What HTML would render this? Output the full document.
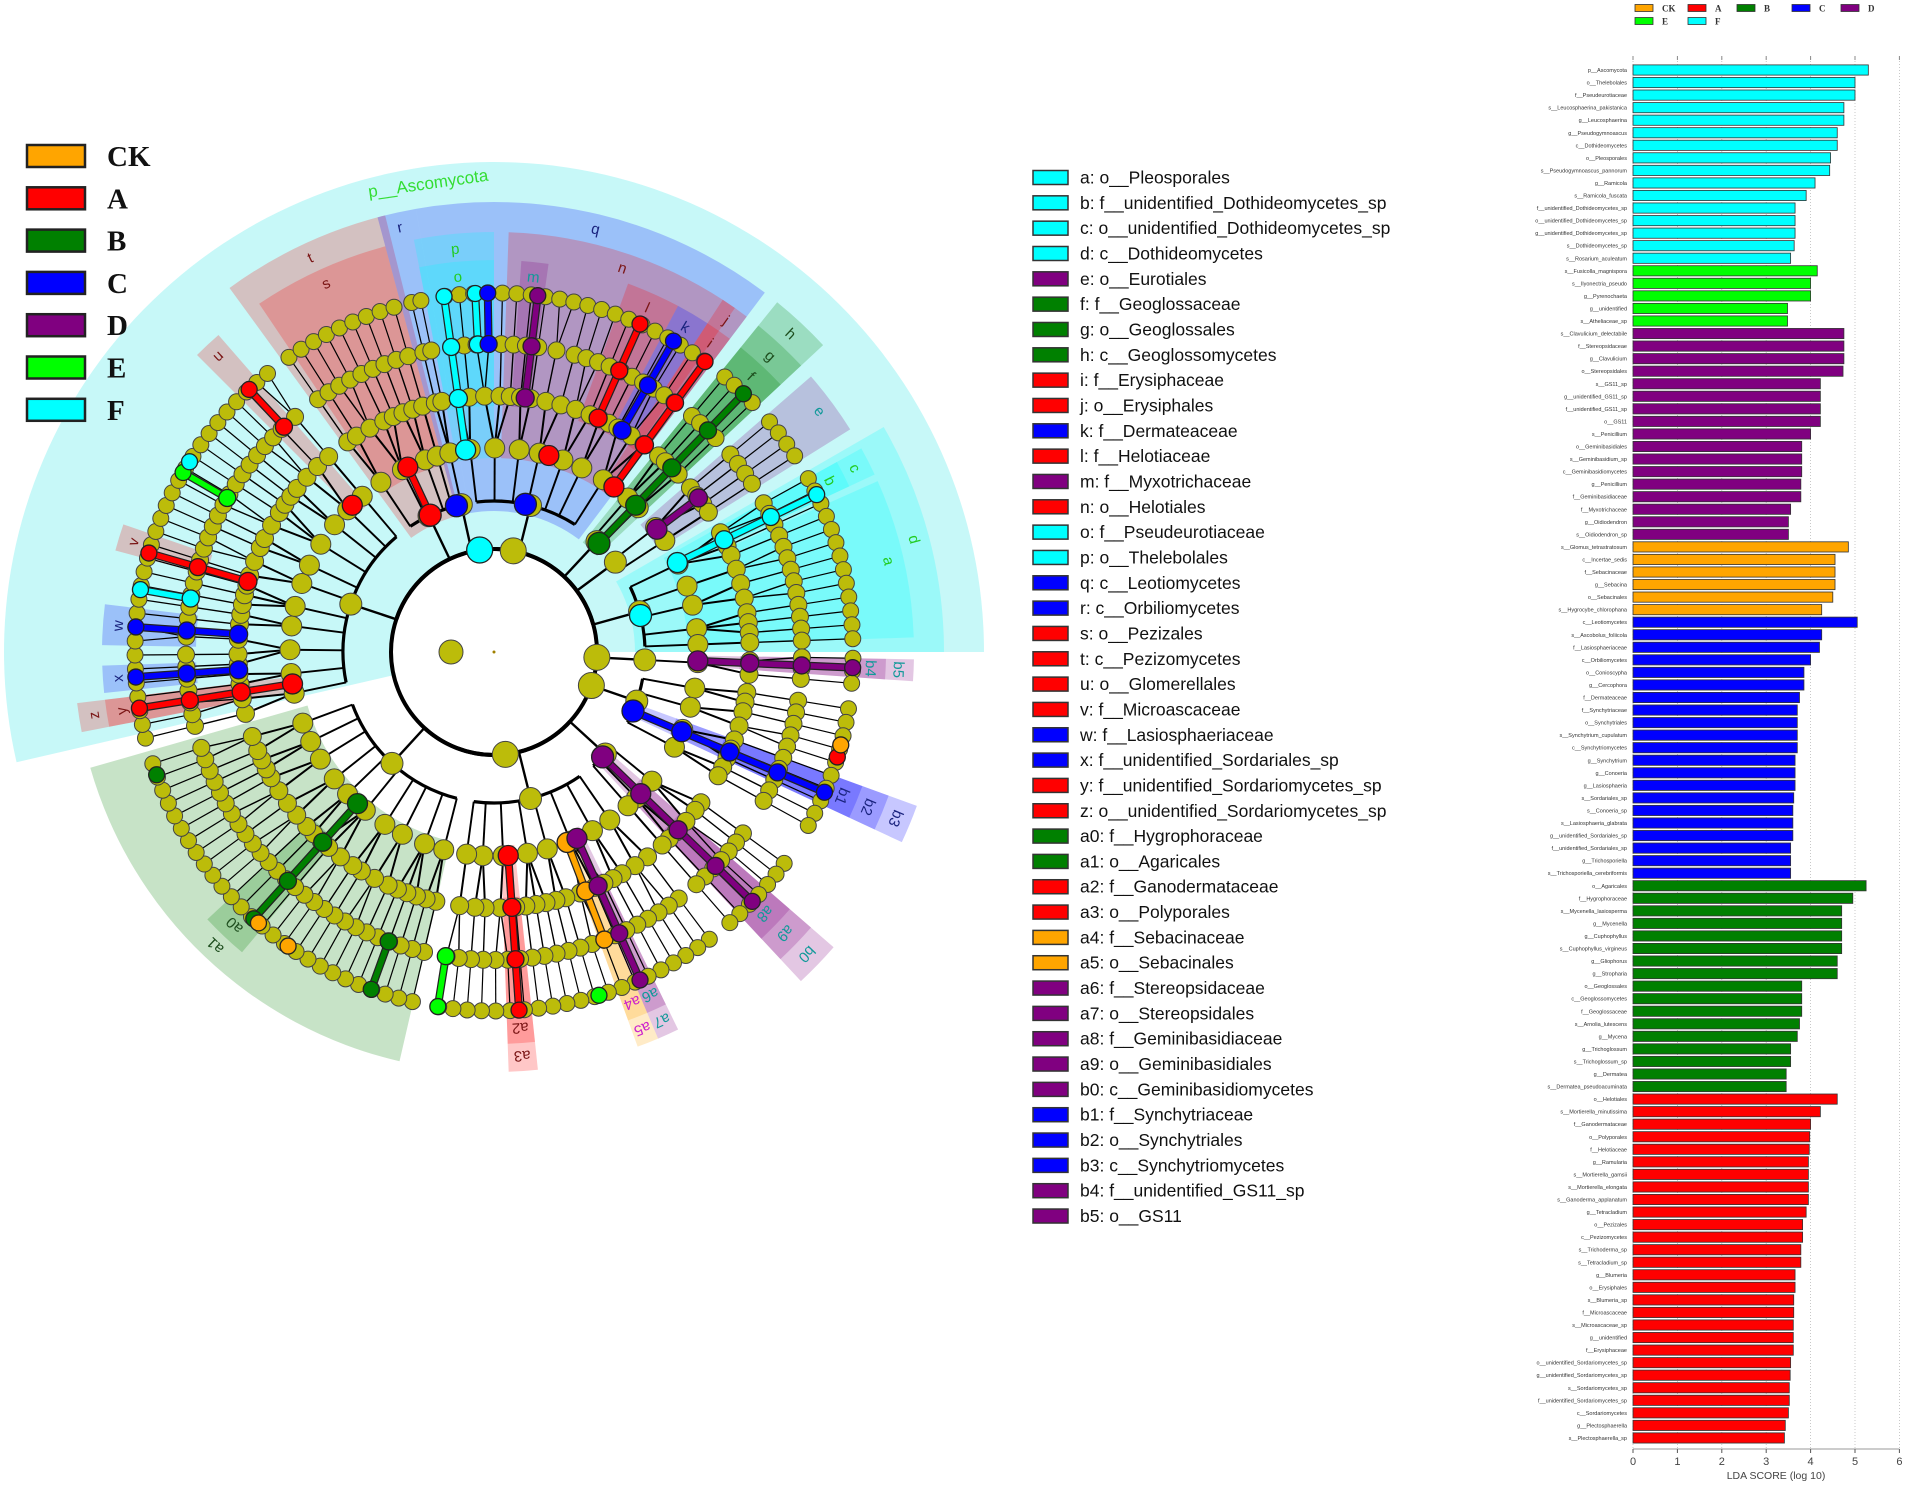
<!DOCTYPE html>
<html><head><meta charset="utf-8"><style>
html,body{margin:0;padding:0;background:#fff;}
svg text{font-family:"Liberation Sans",sans-serif;}
</style></head><body>
<svg id="fig" width="1907" height="1483" viewBox="0 0 1907 1483" xmlns="http://www.w3.org/2000/svg">
<g id="clado"></g>
<g id="grpLegend"></g>
<g id="cladeLegend"></g>
<g id="bars"></g>
</svg>
<script>
const NS="http://www.w3.org/2000/svg";
const GC={CK:'#ffa500',A:'#ff0000',B:'#008000',C:'#0000ff',D:'#800080',E:'#00ff00',F:'#00ffff'};
const LC={CK:'#cc22cc',A:'#7a1515',B:'#1d4d1d',C:'#1a237e',D:'#119999',E:'#22aa22',F:'#22cc22'};

// ---------- bar chart data ----------
const barLabels=["p__Ascomycota","o__Thelebolales","f__Pseudeurotiaceae","s__Leucosphaerina_pakistanica","g__Leucosphaerina","g__Pseudogymnoascus","c__Dothideomycetes","o__Pleosporales","s__Pseudogymnoascus_pannorum","g__Ramicola","s__Ramicola_fuscata","f__unidentified_Dothideomycetes_sp","o__unidentified_Dothideomycetes_sp","g__unidentified_Dothideomycetes_sp","s__Dothideomycetes_sp","s__Rosarium_aculeatum",
"s__Fusicolla_magnispora","s__Ilyonectria_pseudo","g__Pyrenochaeta","g__unidentified","s__Atheliaceae_sp",
"s__Clavulicium_delectabile","f__Stereopsidaceae","g__Clavulicium","o__Stereopsidales","s__GS11_sp","g__unidentified_GS11_sp","f__unidentified_GS11_sp","o__GS11","s__Penicillium","o__Geminibasidiales","s__Geminibasidium_sp","c__Geminibasidiomycetes","g__Penicillium","f__Geminibasidiaceae","f__Myxotrichaceae","g__Oidiodendron","s__Oidiodendron_sp",
"s__Glomus_tetrastratosum","c__Incertae_sedis","f__Sebacinaceae","g__Sebacina","o__Sebacinales","s__Hygrocybe_chlorophana",
"c__Leotiomycetes","s__Ascobolus_foliicola","f__Lasiosphaeriaceae","c__Orbiliomycetes","o__Conioscypha","g__Cercophora","f__Dermateaceae","f__Synchytriaceae","o__Synchytriales","s__Synchytrium_cupulatum","c__Synchytriomycetes","g__Synchytrium","g__Conoeria","g__Lasiosphaeria","s__Sordariales_sp","s__Conoeria_sp","s__Lasiosphaeria_glabrata","g__unidentified_Sordariales_sp","f__unidentified_Sordariales_sp","g__Trichosporiella","s__Trichosporiella_cerebriformis",
"o__Agaricales","f__Hygrophoraceae","s__Mycenella_lasiosperma","g__Mycenella","g__Cuphophyllus","s__Cuphophyllus_virgineus","g__Gliophorus","g__Stropharia","o__Geoglossales","c__Geoglossomycetes","f__Geoglossaceae","s__Arnolia_lutescens","g__Mycena","g__Trichoglossum","s__Trichoglossum_sp","g__Dermatea","s__Dermatea_pseudoacuminata",
"o__Helotiales","s__Mortierella_minutissima","f__Ganodermataceae","o__Polyporales","f__Helotiaceae","g__Ramularia","s__Mortierella_gamsii","s__Mortierella_elongata","s__Ganoderma_applanatum","g__Tetracladium","o__Pezizales","c__Pezizomycetes","s__Trichoderma_sp","s__Tetracladium_sp","g__Blumeria","o__Erysiphales","s__Blumeria_sp","f__Microascaceae","s__Microascaceae_sp","g__unidentified","f__Erysiphaceae","o__unidentified_Sordariomycetes_sp","g__unidentified_Sordariomycetes_sp","s__Sordariomycetes_sp","f__unidentified_Sordariomycetes_sp","c__Sordariomycetes","g__Plectosphaerella","s__Plectosphaerella_sp"];
const barValues=[5.3,5.0,5.0,4.75,4.75,4.6,4.6,4.45,4.43,4.1,3.9,3.65,3.65,3.65,3.63,3.55,
4.15,4.0,4.0,3.48,3.48,
4.75,4.75,4.75,4.73,4.22,4.22,4.22,4.22,4.0,3.8,3.8,3.8,3.78,3.78,3.55,3.5,3.5,
4.85,4.55,4.55,4.55,4.5,4.25,
5.05,4.25,4.2,4.0,3.85,3.85,3.75,3.7,3.7,3.7,3.7,3.65,3.65,3.65,3.62,3.6,3.6,3.6,3.55,3.55,3.55,
5.25,4.95,4.7,4.7,4.7,4.7,4.6,4.6,3.8,3.8,3.8,3.75,3.7,3.55,3.55,3.45,3.45,
4.6,4.22,4.0,3.98,3.97,3.95,3.95,3.95,3.95,3.9,3.82,3.82,3.78,3.78,3.65,3.65,3.62,3.62,3.61,3.61,3.61,3.55,3.54,3.52,3.52,3.5,3.43,3.41];
const barGroupCounts=[["F",16],["E",5],["D",17],["CK",6],["C",21],["B",17],["A",28]];
const xTicks=[0,1,2,3,4,5,6];

// ---------- cladogram data ----------
const cladeLegend=[["a","o__Pleosporales","F"],["b","f__unidentified_Dothideomycetes_sp","F"],["c","o__unidentified_Dothideomycetes_sp","F"],["d","c__Dothideomycetes","F"],["e","o__Eurotiales","D"],["f","f__Geoglossaceae","B"],["g","o__Geoglossales","B"],["h","c__Geoglossomycetes","B"],["i","f__Erysiphaceae","A"],["j","o__Erysiphales","A"],["k","f__Dermateaceae","C"],["l","f__Helotiaceae","A"],["m","f__Myxotrichaceae","D"],["n","o__Helotiales","A"],["o","f__Pseudeurotiaceae","F"],["p","o__Thelebolales","F"],["q","c__Leotiomycetes","C"],["r","c__Orbiliomycetes","C"],["s","o__Pezizales","A"],["t","c__Pezizomycetes","A"],["u","o__Glomerellales","A"],["v","f__Microascaceae","A"],["w","f__Lasiosphaeriaceae","C"],["x","f__unidentified_Sordariales_sp","C"],["y","f__unidentified_Sordariomycetes_sp","A"],["z","o__unidentified_Sordariomycetes_sp","A"],["a0","f__Hygrophoraceae","B"],["a1","o__Agaricales","B"],["a2","f__Ganodermataceae","A"],["a3","o__Polyporales","A"],["a4","f__Sebacinaceae","CK"],["a5","o__Sebacinales","CK"],["a6","f__Stereopsidaceae","D"],["a7","o__Stereopsidales","D"],["a8","f__Geminibasidiaceae","D"],["a9","o__Geminibasidiales","D"],["b0","c__Geminibasidiomycetes","D"],["b1","f__Synchytriaceae","C"],["b2","o__Synchytriales","C"],["b3","c__Synchytriomycetes","C"],["b4","f__unidentified_GS11_sp","D"],["b5","o__GS11","D"]];
const highlights=[["t","A",234,256,2],["s","A",236,255,3],["r","C",255,260,2],["q","C",260,307,2],["p","F",259,270,3],["o","F",259,270,4],["n","A",272,305,3],["m","D",274,278,4],["l","A",290,298,4],["k","C",298,303,4],["j","A",303,307,3],["i","A",303,307,4],["h","B",309,317,2],["g","B",309,317,3],["f","B",309,317,4],["e","D",319,328,3],["d","F",330,360,2],["c","F",331,335,3],["b","F",331,335,4],["a","F",336,358,3],["b5","D",1,4,3],["b4","D",1,4,4],["b3","C",20,25,2],["b2","C",20,25,3],["b1","C",20,25,4],["b0","D",41,47,2],["a9","D",41,47,3],["a8","D",41,47,4],["a7","D",64,67,3],["a6","D",64,67,4],["a5","CK",67,70,3],["a4","CK",67,70,4],["a3","A",84,88,3],["a2","A",84,88,4],["a1","B",103,164,3],["a0","B",130,137,4],["z","A",169,173,3],["y","A",169,173,4],["x","C",174,178,5],["w","C",181,187,5],["v","A",195,199,5],["u","A",225,229,3]];
const classes=[[165,232,0],[234,255,0],[256,259,0],[261,307,0],[309,317,0],[319,328,0],[330,359,0],[0,6,1],[8,30,2],[35,50,3],[52,100,3],[102,163,3]];
const marks=[[262,1,1,"F"],[255.6,2,2,"C"],[282,2,2,"C"],[262,3,6,"F"],[267,5,6,"F"],[269,5,6,"C"],[277,4,6,"D"],[285.6,3,3,"A"],[294,4,6,"A"],[300,4,6,"C"],[306,3,6,"A"],[314,2,6,"B"],[323,3,4,"D"],[346,2,2,"F"],[334,3,6,"F"],[2.5,3,6,"D"],[23,2,6,"C"],[17,6,6,"A"],[15,6,6,"CK"],[44,2,6,"D"],[69,3,5,"CK"],[66,3,6,"D"],[86,3,6,"A"],[99,5,6,"E"],[73,6,6,"E"],[132,3,6,"B"],[110,5,6,"B"],[160,6,6,"B"],[131,6,6,"CK"],[125,6,6,"CK"],[171,3,6,"A"],[176,4,6,"C"],[184,4,6,"C"],[190,5,6,"F"],[196,4,6,"A"],[210,5,6,"E"],[212,6,6,"F"],[227,5,6,"A"],[226,3,3,"A"],[245,2,3,"A"]];

const CX=494,CY=652,R=[0,103,151,204,256,308,359];
const NR=[3,13,11,10,9,8.5,8];
const OUT={2:450,3:420,4:392,5:392};
function el(tag,attrs,parent){const e=document.createElementNS(NS,tag);for(const k in attrs)e.setAttribute(k,attrs[k]);parent.appendChild(e);return e;}
function pol(a,r){const t=a*Math.PI/180;return [CX+r*Math.cos(t),CY+r*Math.sin(t)];}
function sector(a1,a2,r1,r2){const p1=pol(a1,r1),p2=pol(a1,r2),p3=pol(a2,r2),p4=pol(a2,r1);const lg=(a2-a1)>180?1:0;
return `M${p1[0]},${p1[1]}L${p2[0]},${p2[1]}A${r2},${r2} 0 ${lg} 1 ${p3[0]},${p3[1]}L${p4[0]},${p4[1]}A${r1},${r1} 0 ${lg} 0 ${p1[0]},${p1[1]}Z`;}
function arc(a1,a2,r){const p1=pol(a1,r),p2=pol(a2,r);const lg=(a2-a1)>180?1:0;return `M${p1[0]},${p1[1]}A${r},${r} 0 ${lg} 1 ${p2[0]},${p2[1]}`;}

const clado=document.getElementById('clado');
let ph=el('path',{d:sector(167,360,103,490),fill:'#00e0e0','fill-opacity':0.22},clado);

highlights.forEach(h=>{const [lab,g,a1,a2,lv]=h;
 const p=el('path',{d:sector(a1,a2,R[lv]-10,OUT[lv]),fill:GC[g],'fill-opacity':0.22},clado);
 
});
const nodes=[];
function mean(a){return a.reduce((s,x)=>s+x,0)/a.length;}
const phylaKids={};
const oPat=[3,2,4,2,3],fPat=[1,2,1,2,1];
let oi=0,fi=0,gi=0;
classes.forEach(c=>{const [s,e,p]=c;const n=Math.max(2,Math.round((e-s)/2.25));
 const leaves=[];for(let i=0;i<n;i++)leaves.push(s+(i+0.5)*(e-s)/n);
 const orders=[];let i=0;
 while(i<n){const sz=oPat[oi++%oPat.length];const ol=leaves.slice(i,i+sz);i+=sz;
  const fams=[];let j=0;
  while(j<ol.length){const fs=fPat[fi++%fPat.length];const fl=ol.slice(j,j+fs);j+=fs;
   const gens=[];let k=0;
   while(k<fl.length){const two=(gi++%5===2)&&k+1<fl.length;const gl=fl.slice(k,k+(two?2:1));k+=gl.length;
    gens.push({a:mean(gl),lv:5,kids:gl.map(a=>({a:a,lv:6,kids:[]}))});}
   fams.push({a:mean(fl),lv:4,kids:gens});}
  orders.push({a:mean(ol),lv:3,kids:fams});}
 const cn={a:mean(leaves),lv:2,kids:orders};
 (phylaKids[p]=phylaKids[p]||[]).push(cn);
});
const phyla=Object.keys(phylaKids).map(k=>{const ks=phylaKids[k];return {a:mean(ks.map(x=>x.a)),lv:1,kids:ks};});
function walk(n){nodes.push(n);n.kids.forEach(walk);}
phyla.forEach(walk);
const eg=el('g',{},clado);
el('circle',{cx:CX,cy:CY,r:103,fill:'none',stroke:'#000','stroke-width':4},eg);
nodes.forEach(n=>{if(!n.kids.length)return;const W={1:4,2:3.2,3:2,4:1.4,5:1.2}[n.lv];
 const as=n.kids.map(k=>k.a);
 if(n.lv<=2){const mn=Math.min(...as,n.a),mx=Math.max(...as,n.a);
  if(mx-mn>0.5)el('path',{d:arc(mn,mx,R[n.lv]),fill:'none',stroke:'#000','stroke-width':W},eg);
  n.kids.forEach(k=>{const p1=pol(k.a,R[n.lv]),p2=pol(k.a,R[k.lv]);el('line',{x1:p1[0],y1:p1[1],x2:p2[0],y2:p2[1],stroke:'#000','stroke-width':W*0.6},eg);});
 } else {const p0=pol(n.a,R[n.lv]);
  n.kids.forEach(k=>{const p2=pol(k.a,R[k.lv]);el('line',{x1:p0[0],y1:p0[1],x2:p2[0],y2:p2[1],stroke:'#000','stroke-width':W},eg);});}
});
const ng=el('g',{},clado);
nodes.slice().sort((a,b)=>b.lv-a.lv).forEach(n=>{const p=pol(n.a,R[n.lv]);
 const c=el('circle',{cx:p[0],cy:p[1],r:NR[n.lv],fill:'#bcbc0a',stroke:'#444','stroke-width':1},ng);
 });
el('circle',{cx:CX-43,cy:CY,r:12,fill:'#bcbc0a',stroke:'#444','stroke-width':1},ng);
el('circle',{cx:CX,cy:CY,r:1.5,fill:'#a08000'},ng);
const mg=el('g',{},clado);
marks.forEach(m=>{const [a,l1,l2,g]=m;
 if(l2>l1){const p1=pol(a,R[l1]),p2=pol(a,R[l2]);el('line',{x1:p1[0],y1:p1[1],x2:p2[0],y2:p2[1],stroke:'#222','stroke-width':8},mg);
  el('line',{x1:p1[0],y1:p1[1],x2:p2[0],y2:p2[1],stroke:GC[g],'stroke-width':5.5},mg);}
 for(let l=l1;l<=l2;l++){const p=pol(a,R[l]);const c=el('circle',{cx:p[0],cy:p[1],r:NR[l],fill:GC[g],stroke:'#222','stroke-width':1.3},mg);
  }
});
highlights.forEach(h=>{const [lab,g,a1,a2,lv]=h;const a=(a1+a2)/2;const p=pol(a,OUT[lv]-16);
 const t=el('text',{x:p[0],y:p[1],'font-size':15,fill:LC[g],'text-anchor':'middle','dominant-baseline':'middle',transform:`rotate(${a+90},${p[0]},${p[1]})`},clado);
 t.textContent=lab;});
{const p=pol(262,472);const t=el('text',{x:p[0],y:p[1],'font-size':17,fill:'#33dd33','text-anchor':'middle','dominant-baseline':'middle',transform:`rotate(${262+90},${p[0]},${p[1]})`},clado);
 t.textContent='p__Ascomycota';}

const gl=document.getElementById('grpLegend');
["CK","A","B","C","D","E","F"].forEach((g,i)=>{const y=156+i*42.3;
 const r=el('rect',{x:27,y:y-11,width:58,height:22,fill:GC[g],stroke:'#222','stroke-width':2.5},gl);
 
 const t=el('text',{x:107,y:y+10,'font-size':29,'font-weight':'bold',fill:'#111',style:'font-family:"Liberation Serif",serif'},gl);
 t.textContent=g;});

const cl=document.getElementById('cladeLegend');
cladeLegend.forEach((c,i)=>{const y=177.5+i*25.33;
 const r=el('rect',{x:1033,y:y-7,width:35,height:14,fill:GC[c[2]],stroke:'#333','stroke-width':1.5},cl);
 
 const t=el('text',{x:1080,y:y+6,'font-size':17.5,fill:'#111'},cl);
 t.textContent=c[0]+': '+c[1];});

const bg=document.getElementById('bars');
const X0=1633,UNIT=44.4,Y0=70,STEP=12.55,BH=10.2,AXY=1449;
function xs(v){return X0+v*UNIT;}
const barGroups=[];barGroupCounts.forEach(([g,n])=>{for(let i=0;i<n;i++)barGroups.push(g);});
xTicks.forEach(v=>{const x=xs(v);
 const gline=el('line',{x1:x,y1:58,x2:x,y2:AXY,stroke:'#bbb','stroke-width':0.8,'stroke-dasharray':'1,2'},bg);
 
 el('line',{x1:x,y1:AXY,x2:x,y2:AXY+4,stroke:'#555'},bg);
 el('line',{x1:x,y1:56,x2:x,y2:60,stroke:'#888'},bg);
 const t=el('text',{x:x,y:AXY+16,'font-size':11,fill:'#444','text-anchor':'middle'},bg);
 t.textContent=v;});
{const a=el('line',{x1:xs(0),y1:AXY,x2:xs(6),y2:AXY,stroke:'#777','stroke-width':0.8},bg);
 const t=el('text',{x:1776,y:AXY+30,'font-size':10.5,fill:'#444','text-anchor':'middle'},bg);t.textContent='LDA SCORE (log 10)';}
barValues.forEach((v,i)=>{const y=Y0+i*STEP;
 const r=el('rect',{x:xs(0),y:y-BH/2,width:xs(v)-xs(0),height:BH,fill:GC[barGroups[i]],stroke:'#333','stroke-width':0.8},bg);
 
 const t=el('text',{x:1627,y:y+2,'font-size':5.5,fill:'#333','text-anchor':'end'},bg);
 t.textContent=barLabels[i];});
const bl=[["CK",1635,8],["A",1688,8],["B",1737,8],["C",1792,8],["D",1841,8],["E",1635,21],["F",1688,21]];
bl.forEach(([g,x,y])=>{const r=el('rect',{x:x,y:y-3.5,width:18,height:7,fill:GC[g],stroke:'#333','stroke-width':0.8},bg);
 
 const t=el('text',{x:x+27,y:y+3.5,'font-size':9,'font-weight':'bold',fill:'#333',style:'font-family:"Liberation Serif",serif'},bg);
 t.textContent=g;});
</script>
</body></html>
